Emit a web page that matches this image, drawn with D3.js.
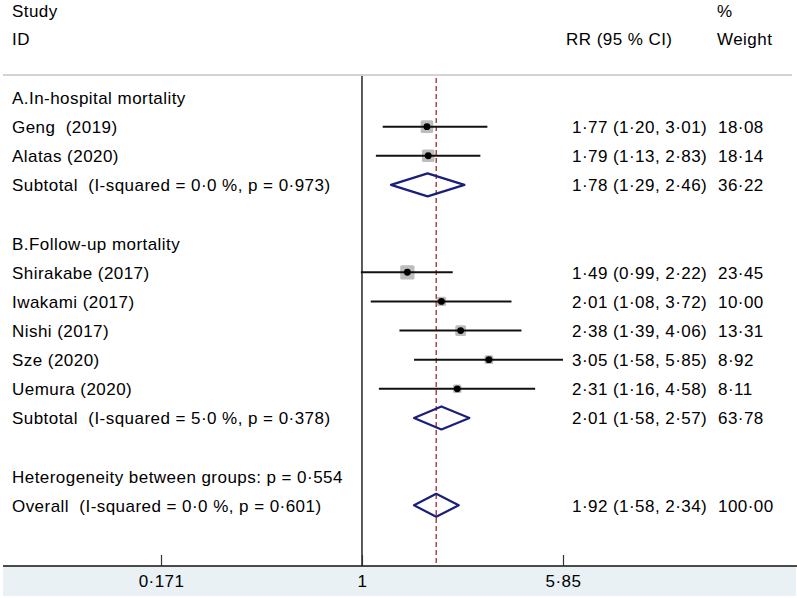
<!DOCTYPE html>
<html>
<head>
<meta charset="utf-8">
<script src="https://cdn.jsdelivr.net/npm/d3@7"></script>
<style>
  html, body { margin: 0; padding: 0; background: #fff; }
  text { font-family: "Liberation Sans", Arial, sans-serif; fill: #000; white-space: pre; letter-spacing: 0.45px; }
</style>
</head>
<body>
<svg id="chart" width="797" height="598"></svg>
<script>
// ---- data ----
const rowLabels = [
  "A.In-hospital mortality",
  "Geng  (2019)",
  "Alatas (2020)",
  "Subtotal  (I-squared = 0·0 %, p = 0·973)",
  "",
  "B.Follow-up mortality",
  "Shirakabe (2017)",
  "Iwakami (2017)",
  "Nishi (2017)",
  "Sze (2020)",
  "Uemura (2020)",
  "Subtotal  (I-squared = 5·0 %, p = 0·378)",
  "",
  "Heterogeneity between groups: p = 0·554",
  "Overall  (I-squared = 0·0 %, p = 0·601)"
];
// row type: h = header, s = study, d = diamond (pooled), n = none
const rowTypes = ["h","s","s","d","n","h","s","s","s","s","s","d","n","h","d"];
const rr     = [null, 1.77, 1.79, 1.78, null, null, 1.49, 2.01, 2.38, 3.05, 2.31, 2.01, null, null, 1.92];
const lower  = [null, 1.20, 1.13, 1.29, null, null, 0.99, 1.08, 1.39, 1.58, 1.16, 1.58, null, null, 1.58];
const upper  = [null, 3.01, 2.83, 2.46, null, null, 2.22, 3.72, 4.06, 5.85, 4.58, 2.57, null, null, 2.34];
const weight = [null, 18.08, 18.14, 36.22, null, null, 23.45, 10.00, 13.31, 8.92, 8.11, 63.78, null, null, 100.00];
const tickValues = [0.171, 1, 5.85];
const overallRR = 1.92;

const fmt = v => d3.format(".2f")(v).replace(".", "·");

// ---- layout ----
const svg = d3.select("#chart");
const W = 797, H = 598;
const axisY = 566;
const x = d3.scaleLog().domain([0.171, 5.85]).range([161, 563]);
const y = d3.scaleLinear().domain([0, 14]).range([97.5, 505.3]);
const fontSize = 17;
const base = 6.5;

// bottom band
svg.append("rect").attr("x", 3).attr("y", axisY).attr("width", W - 4).attr("height", H - axisY - 2)
  .attr("fill", "#e9f1f4");

// header
const hdr = svg.append("g").attr("font-size", fontSize);
hdr.append("text").attr("x", 12).attr("y", 17).text("Study");
hdr.append("text").attr("x", 12).attr("y", 45).text("ID");
hdr.append("text").attr("x", 566).attr("y", 45).text("RR (95 % CI)");
hdr.append("text").attr("x", 717).attr("y", 17).text("%");
hdr.append("text").attr("x", 717).attr("y", 45).text("Weight");

// separator line
svg.append("line").attr("x1", 3).attr("x2", 792).attr("y1", 75).attr("y2", 75)
  .attr("stroke", "#c4c4c4").attr("stroke-width", 1.5);

// null line at 1
svg.append("line").attr("x1", x(1)).attr("x2", x(1)).attr("y1", 76).attr("y2", axisY)
  .attr("stroke", "#333").attr("stroke-width", 1.6);

// overall dashed line
svg.append("line").attr("x1", x(overallRR)).attr("x2", x(overallRR)).attr("y1", 78).attr("y2", axisY)
  .attr("stroke", "#9b2a2a").attr("stroke-width", 1.3).attr("stroke-dasharray", "5,3");

const idx = d3.range(rowLabels.length);

// labels
svg.append("g").attr("font-size", fontSize).selectAll("text").data(idx).join("text")
  .attr("x", 12).attr("y", i => y(i) + base).text(i => rowLabels[i]);

// estimate text
const est = idx.filter(i => rr[i] != null);
svg.append("g").attr("font-size", fontSize).selectAll("text").data(est).join("text")
  .attr("x", 572).attr("y", i => y(i) + base)
  .text(i => `${fmt(rr[i])} (${fmt(lower[i])}, ${fmt(upper[i])})`);
svg.append("g").attr("font-size", fontSize).selectAll("text").data(est).join("text")
  .attr("x", 718).attr("y", i => y(i) + base)
  .text(i => fmt(weight[i]));

// studies
const studies = idx.filter(i => rowTypes[i] === "s");
const boxSide = w => 2.95 * Math.sqrt(w);
const g = svg.append("g");
g.selectAll("rect.box").data(studies).join("rect").attr("class", "box")
  .attr("x", i => x(rr[i]) - boxSide(weight[i]) / 2)
  .attr("y", i => y(i) - boxSide(weight[i]) / 2)
  .attr("width", i => boxSide(weight[i])).attr("height", i => boxSide(weight[i]))
  .attr("rx", 1.5)
  .attr("fill", "#bdbdbd");
g.selectAll("line.ci").data(studies).join("line").attr("class", "ci")
  .attr("x1", i => x(lower[i])).attr("x2", i => x(upper[i]))
  .attr("y1", i => y(i)).attr("y2", i => y(i))
  .attr("stroke", "#111").attr("stroke-width", 2);
g.selectAll("circle").data(studies).join("circle")
  .attr("cx", i => x(rr[i])).attr("cy", i => y(i)).attr("r", 3.4).attr("fill", "#000");

// diamonds
const pooled = idx.filter(i => rowTypes[i] === "d");
const dh = 11.5;
g.selectAll("path.dia").data(pooled).join("path").attr("class", "dia")
  .attr("d", i => `M${x(lower[i])},${y(i)} L${x(rr[i])},${y(i) - dh} L${x(upper[i])},${y(i)} L${x(rr[i])},${y(i) + dh} Z`)
  .attr("fill", "none").attr("stroke", "#1a1f78").attr("stroke-width", 2.2).attr("stroke-linejoin", "round");

// axis
svg.append("line").attr("x1", 3).attr("x2", W).attr("y1", axisY).attr("y2", axisY)
  .attr("stroke", "#111").attr("stroke-width", 1.6);
const axis = d3.axisBottom(x).tickValues(tickValues)
  .tickFormat(v => String(v).replace(".", "·"))
  .tickSizeInner(-11).tickSizeOuter(0).tickPadding(9);
const ax = svg.append("g").attr("transform", `translate(0,${axisY})`).call(axis);
ax.select(".domain").remove();
ax.selectAll(".tick line").attr("stroke", "#333").attr("stroke-width", 1.2);
ax.selectAll(".tick text").attr("font-size", fontSize).attr("font-family", "Liberation Sans, Arial, sans-serif").attr("fill", "#000");
</script>
</body>
</html>
